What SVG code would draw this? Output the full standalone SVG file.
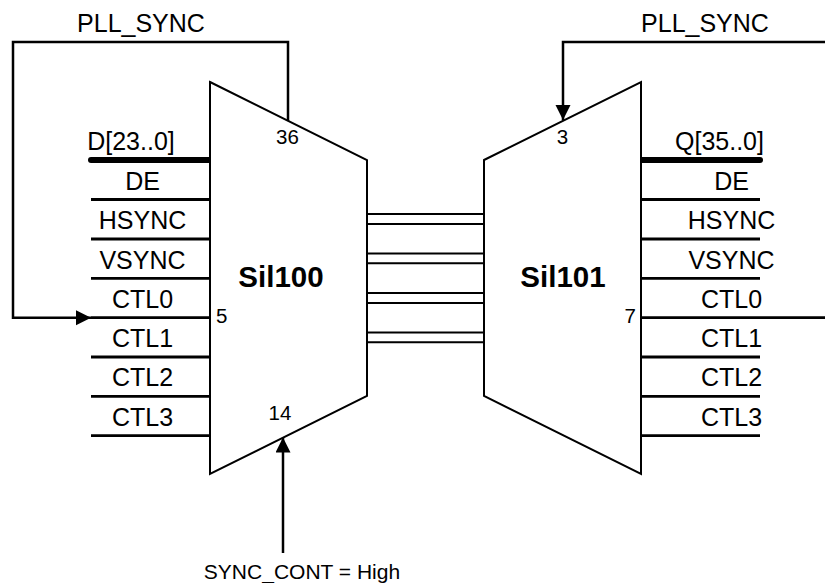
<svg xmlns="http://www.w3.org/2000/svg" width="825" height="583" viewBox="0 0 825 583">
<style>
.bg{fill:#fff}
.chip{fill:#fff;stroke:#000;stroke-width:2;stroke-linejoin:miter}
.pin{stroke:#000;stroke-width:2.8;fill:none}
.bus{stroke:#000;stroke-width:6;stroke-linecap:round;fill:none}
.wire{stroke:#000;stroke-width:2.5;fill:none}
.link{stroke:#000;stroke-width:2;fill:none}
text{font-family:"Liberation Sans",Arial,sans-serif;fill:#000}
.lbl{font-size:25px;text-anchor:middle}
.num{font-size:20.5px}
.title{font-size:29.5px;font-weight:bold;text-anchor:middle}
.note{font-size:21px;text-anchor:middle}
</style>
<defs>
<marker id="arr" markerWidth="16" markerHeight="16" refX="15" refY="7.5" orient="auto" markerUnits="userSpaceOnUse">
<path d="M0,0 L15,7.5 L0,15 Z" fill="#000"/>
</marker>
</defs>
<rect class="bg" x="0" y="0" width="825" height="583"/>

<g id="connectors">
<path class="wire" d="M288,121 V42 H13 V317.7 H91" marker-end="url(#arr)"/>
<path class="wire" d="M825,42 H563 V120" marker-end="url(#arr)"/>
<path class="wire" d="M283,553 V437.5" marker-end="url(#arr)"/>
<path class="link" d="M367,214 H484 M367,224 H484 M367,253.5 H484 M367,263.3 H484 M367,293 H484 M367,303 H484 M367,332.5 H484 M367,342.3 H484"/>
</g>

<g id="sil100">
<path class="bus" d="M91,160 H210"/>
<path class="pin" d="M91,199.5 H210 M91,239 H210 M91,278.3 H210 M91,317.7 H210 M91,357 H210 M91,396.3 H210 M91,435.7 H210"/>
<path class="chip" d="M210,82 L367,160 L367,396 L210,474 Z"/>
<text class="title" x="281" y="287">Sil100</text>
<text class="num" x="287.5" y="144" text-anchor="middle">36</text>
<text class="num" x="216" y="323">5</text>
<text class="num" x="280" y="420" text-anchor="middle">14</text>
<text class="lbl" x="131" y="149.5">D[23..0]</text>
<text class="lbl" x="142.5" y="190">DE</text>
<text class="lbl" x="142.5" y="229.3">HSYNC</text>
<text class="lbl" x="142.5" y="268.5">VSYNC</text>
<text class="lbl" x="142.5" y="308">CTL0</text>
<text class="lbl" x="142.5" y="347">CTL1</text>
<text class="lbl" x="142.5" y="386.3">CTL2</text>
<text class="lbl" x="142.5" y="425.7">CTL3</text>
</g>

<g id="sil101">
<path class="bus" d="M641,160 H760"/>
<path class="pin" d="M641,199.5 H760 M641,239 H760 M641,278.3 H760 M641,317.7 H825 M641,357 H760 M641,396.3 H760 M641,435.7 H760"/>
<path class="chip" d="M484,160 L641,82 L641,474 L484,396 Z"/>
<text class="title" x="563" y="287">Sil101</text>
<text class="num" x="562.5" y="144" text-anchor="middle">3</text>
<text class="num" x="636" y="323" text-anchor="end">7</text>
<text class="lbl" x="719.5" y="149.5">Q[35..0]</text>
<text class="lbl" x="731.5" y="190">DE</text>
<text class="lbl" x="731.5" y="229.3">HSYNC</text>
<text class="lbl" x="731.5" y="268.5">VSYNC</text>
<text class="lbl" x="731.5" y="308">CTL0</text>
<text class="lbl" x="731.5" y="347">CTL1</text>
<text class="lbl" x="731.5" y="386.3">CTL2</text>
<text class="lbl" x="731.5" y="425.7">CTL3</text>
</g>

<g id="labels">
<text class="lbl" x="141" y="32">PLL_SYNC</text>
<text class="lbl" x="705" y="32">PLL_SYNC</text>
<text class="note" x="302" y="578.5">SYNC_CONT = High</text>
</g>
</svg>
